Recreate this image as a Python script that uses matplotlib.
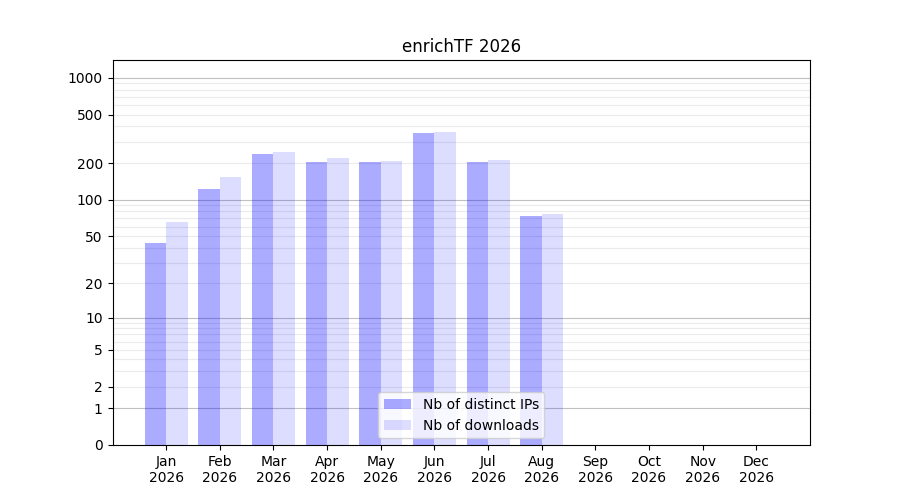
import matplotlib
matplotlib.use("Agg")
import matplotlib.pyplot as plt
import numpy as np
from matplotlib.ticker import FixedLocator, NullFormatter

# Données
months = ["Jan", "Feb", "Mar", "Apr", "May", "Jun",
          "Jul", "Aug", "Sep", "Oct", "Nov", "Dec"]
year = "2026"
distinct_ips = [44, 123, 238, 205, 205, 355, 205, 73, 0, 0, 0, 0]
downloads = [66, 154, 248, 221, 209, 362, 213, 76, 0, 0, 0, 0]

major_ticks = [0, 1, 2, 5, 10, 20, 50, 100, 200, 500, 1000]
decades = [1, 10, 100, 1000]


def forward(y):
    return np.log10(1 + np.asarray(y, dtype=float))


def inverse(y):
    return 10 ** np.asarray(y, dtype=float) - 1


fig, ax = plt.subplots(figsize=(9, 5), dpi=100)
ax.set_axisbelow(True)

x = np.arange(len(months))
width = 0.4
ax.bar(x, distinct_ips, width=-width, align='edge', color='blue', alpha=0.33,
       label='Nb of distinct IPs', zorder=2)
ax.bar(x, downloads, width=width, align='edge', color='blue', alpha=0.135,
       label='Nb of downloads', zorder=2)

ax.set_yscale('function', functions=(forward, inverse))
ax.set_ylim(0, 1400)
ax.yaxis.set_major_locator(FixedLocator(major_ticks))
ax.set_yticklabels([str(t) for t in major_ticks])
minor = [m * 10 ** k for k in range(0, 4) for m in range(2, 10) if m * 10 ** k < 1400]
ax.yaxis.remove_overlapping_locs = False
ax.yaxis.set_minor_locator(FixedLocator(minor))
ax.yaxis.set_minor_formatter(NullFormatter())
ax.tick_params(axis='y', which='minor', length=0)
ax.grid(True, axis='y', which='minor', color='#ebebeb', linewidth=0.8, zorder=0.5)
for d in decades:
    ax.axhline(d, color='#c0c0c0', linewidth=0.8, zorder=1)

ax.set_xticks(x)
ax.set_xticklabels([f"{m}\n{year}" for m in months])
ax.set_xlim(-1, 12)

ax.set_title(f"enrichTF {year}")
ax.legend(loc='lower center')

fig.savefig("out.png", dpi=100)
